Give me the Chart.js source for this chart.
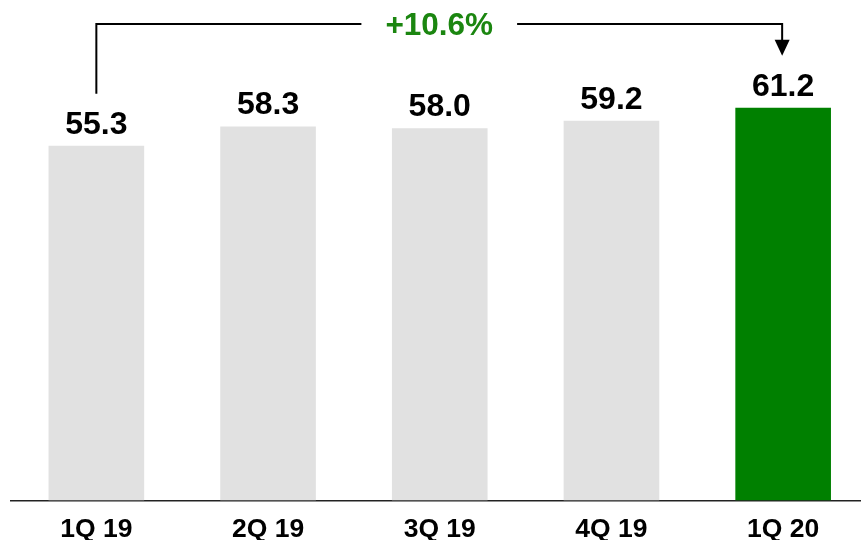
<!DOCTYPE html>
<html>
<head>
<meta charset="utf-8">
<script src="https://cdn.jsdelivr.net/npm/chart.js@4/dist/chart.umd.min.js"></script>
<style>
	html, body { margin: 0; padding: 0; background: #ffffff; overflow: hidden; }
	#wrap { position: relative; width: 869px; height: 540px; }
</style>
</head>
<body>
<div id="wrap"><canvas id="chart"></canvas></div>
<script>
const quarters = ["1Q 19", "2Q 19", "3Q 19", "4Q 19", "1Q 20"];
const revenue = [55.3, 58.3, 58.0, 59.2, 61.2];
const growthLabel = "+10.6%";

const FONT = "'Liberation Sans', Arial, sans-serif";
const barColors = quarters.map((q, i) => i === quarters.length - 1 ? "#008000" : "#e1e1e1");

// value labels on top of each bar
const valueLabels = {
	id: "valueLabels"
	, afterDatasetsDraw(chart) {
		const ctx = chart.ctx;
		const meta = chart.getDatasetMeta(0);
		ctx.save();
		ctx.font = "bold 32px " + FONT;
		ctx.fillStyle = "#000000";
		ctx.textAlign = "center";
		ctx.textBaseline = "alphabetic";
		meta.data.forEach((bar, i) => {
			ctx.fillText(revenue[i].toFixed(1), bar.x, bar.y - 12);
		});
		ctx.restore();
	}
};

// bracket from first to last bar with growth figure
const growthBracket = {
	id: "growthBracket"
	, afterDatasetsDraw(chart) {
		const ctx = chart.ctx;
		const meta = chart.getDatasetMeta(0);
		const first = meta.data[0];
		const last = meta.data[meta.data.length - 1];
		const top = chart.chartArea.top + 24;
		const x1 = first.x;
		const x2 = last.x - 1;
		const y1 = first.y - 52;
		const y2 = last.y - 52;
		const mid = (x1 + x2) / 2;

		ctx.save();
		ctx.font = "bold 31.5px " + FONT;
		const tw = ctx.measureText(growthLabel).width;
		const gap = tw / 2 + 24;

		ctx.strokeStyle = "#000000";
		ctx.lineWidth = 2;
		ctx.beginPath();
		ctx.moveTo(x1, y1);
		ctx.lineTo(x1, top);
		ctx.lineTo(mid - gap, top);
		ctx.moveTo(mid + gap, top);
		ctx.lineTo(x2, top);
		ctx.lineTo(x2, y2 - 14);
		ctx.stroke();

		ctx.fillStyle = "#000000";
		ctx.beginPath();
		ctx.moveTo(x2 - 7.5, y2 - 16);
		ctx.lineTo(x2 + 7.5, y2 - 16);
		ctx.lineTo(x2, y2);
		ctx.closePath();
		ctx.fill();

		ctx.fillStyle = "#1b8610";
		ctx.textAlign = "center";
		ctx.textBaseline = "middle";
		ctx.fillText(growthLabel, mid, top + 2);
		ctx.restore();
	}
};

new Chart(document.getElementById("chart"), {
	type: "bar"
	, data: {
		labels: quarters
		, datasets: [{
			data: revenue
			, backgroundColor: barColors
			, borderWidth: 0
			, categoryPercentage: 1
			, barPercentage: 0.557
		}]
	}
	, options: {
		responsive: true
		, maintainAspectRatio: false
		, animation: false
		, layout: { padding: { left: 10.5, right: 0, top: 0, bottom: -19 } }
		, plugins: {
			legend: { display: false }
			, tooltip: { enabled: false }
		}
		, scales: {
			x: {
				grid: { display: false, drawTicks: false }
				, border: { display: true, color: "#222222", width: 1.5 }
				, ticks: {
					color: "#000000"
					, padding: 16
					, font: { family: FONT, size: 26.5, weight: "bold", lineHeight: 1 }
				}
			}
			, y: {
				display: false
				, min: 0
				, max: 78
			}
		}
	}
	, plugins: [valueLabels, growthBracket]
});
</script>
</body>
</html>
